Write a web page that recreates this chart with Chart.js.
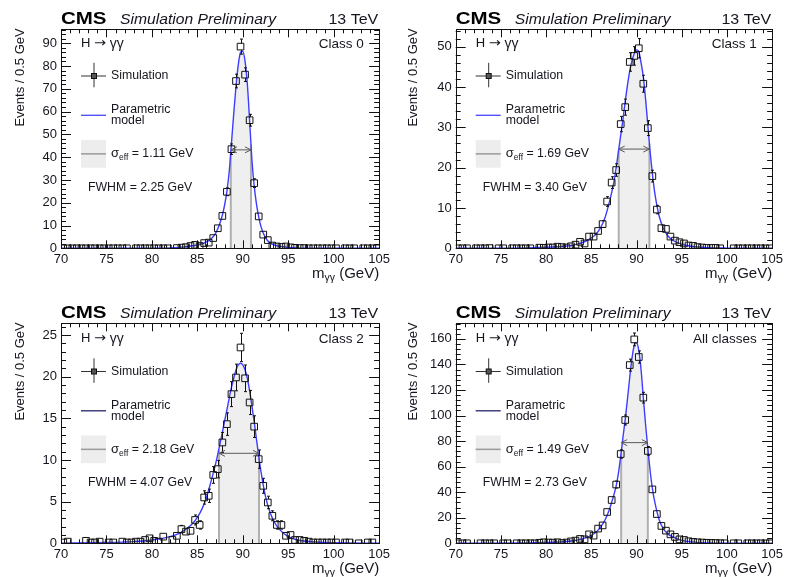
<!DOCTYPE html>
<html>
<head>
<meta charset="utf-8">
<script src="https://cdn.jsdelivr.net/npm/chart.js@4.4.0/dist/chart.umd.min.js"></script>
<style>
  html, body { margin: 0; padding: 0; background: #fff; }
  #wrap { position: relative; width: 786px; height: 577px; overflow: hidden; }
  canvas { position: absolute; }
</style>
</head>
<body>
<div id="wrap">
  <canvas id="c0" width="393" height="290" style="left:0;top:0"></canvas>
  <canvas id="c1" width="393" height="290" style="left:393px;top:0"></canvas>
  <canvas id="c2" width="393" height="287" style="left:0;top:290px"></canvas>
  <canvas id="c3" width="393" height="287" style="left:393px;top:290px"></canvas>
</div>
<script>
// Diphoton invariant mass, 0.5 GeV bins from 70 to 105 GeV (bin centres)
const massBins = [
  70.25, 70.75, 71.25, 71.75, 72.25, 72.75, 73.25, 73.75, 74.25, 74.75,
  75.25, 75.75, 76.25, 76.75, 77.25, 77.75, 78.25, 78.75, 79.25, 79.75,
  80.25, 80.75, 81.25, 81.75, 82.25, 82.75, 83.25, 83.75, 84.25, 84.75,
  85.25, 85.75, 86.25, 86.75, 87.25, 87.75, 88.25, 88.75, 89.25, 89.75,
  90.25, 90.75, 91.25, 91.75, 92.25, 92.75, 93.25, 93.75, 94.25, 94.75,
  95.25, 95.75, 96.25, 96.75, 97.25, 97.75, 98.25, 98.75, 99.25, 99.75,
  100.25, 100.75, 101.25, 101.75, 102.25, 102.75, 103.25, 103.75, 104.25, 104.75
];

// Simulated events per bin (null = empty bin, no marker)
const class0Events = [
  0, 0, 0, 0, 0, 0, 0, 0, 0, 0,
  0, 0, 0, 0, 0, null, 0, 0, 0, 0,
  0, 0, 0, 0, null, 0.1, 0.3, 0.5, 1.0, 1.5,
  1.0, 2.3, 2.5, 4.5, 8.8, 14.2, 24.8, 43.5, 73.4, 88.5,
  76.2, 56.2, 28.6, 14.0, 6.0, 3.6, 1.2, 0.8, 0.6, 0.8,
  0.4, 0.2, 0.1, 0.1, 0, 0, 0, 0, 0, 0,
  0, null, 0, 0, 0, null, 0, 0, 0, 0
];
const class0Errors = [
  0, 0, 0, 0, 0, 0, 0, 0, 0, 0,
  0, 0, 0, 0, 0, 0, 0, 0, 0, 0,
  0, 0, 0, 0, 0, 0.1, 0.2, 0.25, 0.35, 0.4,
  0.35, 0.5, 0.55, 0.75, 1.0, 1.3, 1.7, 2.3, 3.0, 3.3,
  3.0, 2.6, 1.9, 1.3, 0.85, 0.7, 0.4, 0.3, 0.3, 0.3,
  0.2, 0.15, 0.1, 0.1, 0, 0, 0, 0, 0, 0,
  0, 0, 0, 0, 0, 0, 0, 0, 0, 0
];

const class1Events = [
  0, 0, 0, null, 0, 0, 0, 0.05, null, 0,
  0, null, 0, 0, 0, 0, 0, null, 0.15, 0.1,
  0.2, 0.2, 0.4, 0.3, 0.2, 0.5, 0.9, 1.6, 1.2, 2.9,
  2.9, 4.3, 6.0, 11.6, 16.3, 19.4, 30.8, 35.0, 46.2, 47.7,
  49.6, 40.8, 29.8, 17.9, 9.6, 5.0, 4.8, 2.9, 1.9, 1.5,
  1.2, 0.7, 0.6, 0.3, 0.2, 0.1, 0.1, 0.1, 0, null,
  null, 0, 0, 0, 0, 0, 0, 0, 0, 0
];
const class1Errors = [
  0, 0, 0, 0, 0, 0, 0, 0.05, 0, 0,
  0, 0, 0, 0, 0, 0, 0, 0, 0.1, 0.1,
  0.15, 0.15, 0.2, 0.2, 0.15, 0.25, 0.3, 0.45, 0.4, 0.6,
  0.6, 0.7, 0.85, 1.2, 1.45, 1.55, 1.9, 2.0, 2.3, 2.3,
  2.4, 2.1, 1.85, 1.45, 1.05, 0.8, 0.75, 0.6, 0.5, 0.45,
  0.4, 0.3, 0.3, 0.2, 0.15, 0.1, 0.1, 0.1, 0, 0,
  0, 0, 0, 0, 0, 0, 0, 0, 0, 0
];

const class2Events = [
  0.1, 0.2, null, null, null, 0.3, 0.1, 0.1, 0.2, null,
  0.1, 0.1, null, 0.2, 0.1, 0.1, 0.2, 0.2, 0.4, 0.6,
  0.3, 0.2, 0.8, null, 0.4, 0.9, 1.7, 1.4, 1.5, 2.8,
  2.2, 5.5, 5.7, 8.2, 8.9, 12.1, 14.3, 17.9, 19.9, 23.5,
  19.8, 16.9, 14.0, 10.1, 6.9, 4.9, 3.3, 2.2, 2.2, 0.9,
  1.0, 0.4, 0.4, 0.3, 0.2, 0.1, 0.1, 0.1, 0.1, 0.1,
  0.1, null, 0.1, 0.1, null, 0, null, 0.1, 0.1, null
];
const class2Errors = [
  0.1, 0.15, 0, 0, 0, 0.2, 0.1, 0.1, 0.15, 0,
  0.1, 0.1, 0, 0.15, 0.1, 0.1, 0.15, 0.15, 0.2, 0.25,
  0.2, 0.15, 0.3, 0, 0.2, 0.3, 0.45, 0.4, 0.4, 0.6,
  0.5, 0.8, 0.8, 1.0, 1.05, 1.2, 1.35, 1.5, 1.6, 1.7,
  1.6, 1.45, 1.3, 1.1, 0.9, 0.75, 0.6, 0.5, 0.5, 0.3,
  0.35, 0.2, 0.2, 0.2, 0.15, 0.1, 0.1, 0.1, 0.1, 0.1,
  0.1, 0, 0.1, 0.1, 0, 0, 0, 0.1, 0.1, 0
];

const allEvents = [
  0, 0, 0, null, null, 0, 0, 0, 0, null,
  0, 0, null, 0, 0, 0, 0, 0, 0.4, 0.8,
  0.6, 0.5, 0.8, 0.2, 0.6, 1.5, 2.1, 3.4, 3.1, 7.0,
  6.0, 11.5, 14.0, 24.5, 33.9, 46.0, 69.9, 96.5, 139.5, 159.6,
  145.8, 114.0, 72.3, 42.2, 22.9, 13.6, 9.9, 7.0, 5.0, 3.1,
  2.6, 1.6, 1.1, 0.8, 0.6, 0.4, 0.3, 0.2, 0.1, 0,
  null, 0, 0, null, 0, 0, 0, 0, 0, 0
];
const allErrors = [
  0, 0, 0, 0, 0, 0, 0, 0, 0, 0,
  0, 0, 0, 0, 0, 0, 0, 0, 0.3, 0.4,
  0.35, 0.3, 0.4, 0.2, 0.35, 0.5, 0.6, 0.75, 0.7, 1.1,
  1.0, 1.4, 1.5, 2.0, 2.3, 2.7, 3.3, 3.9, 4.7, 5.0,
  4.8, 4.2, 3.4, 2.6, 1.9, 1.5, 1.3, 1.1, 0.9, 0.7,
  0.65, 0.5, 0.4, 0.35, 0.3, 0.25, 0.2, 0.15, 0.1, 0,
  0, 0, 0, 0, 0, 0, 0, 0, 0, 0
];

// Parametric signal model, sampled in mass
const modelMass = [
  70, 74, 78, 80, 82, 83, 84, 84.5, 85, 85.5,
  86, 86.5, 87, 87.25, 87.5, 87.75, 88, 88.25, 88.5, 88.75,
  89, 89.25, 89.5, 89.75, 90, 90.25, 90.5, 90.75, 91, 91.25,
  91.5, 91.75, 92, 92.5, 93, 93.5, 94, 95, 96, 98,
  100, 105
];
const class0Model = [
  0, 0, 0.02, 0.05, 0.2, 0.4, 0.8, 1.1, 1.5, 2.0,
  2.8, 4.1, 6.6, 8.6, 11.2, 14.5, 19, 25, 33.5, 46,
  59, 71, 80.5, 86, 86.5, 82, 72, 56, 39, 27.5,
  19.5, 13.8, 9.5, 4.6, 2.4, 1.4, 0.9, 0.4, 0.15, 0.05,
  0.02, 0
];
const class1Model = [
  0, 0.02, 0.1, 0.25, 0.5, 0.8, 1.4, 1.9, 2.6, 3.5,
  5.0, 7.5, 11.5, 13.8, 16.5, 20, 24, 28, 32, 36.5,
  40.5, 44, 46.5, 48.3, 49.2, 48.8, 46, 42.5, 37, 30.5,
  24, 18.5, 14, 8, 4.8, 3.0, 2.0, 1.0, 0.5, 0.15,
  0.05, 0
];
const class2Model = [
  0.02, 0.08, 0.2, 0.4, 0.8, 1.2, 1.9, 2.4, 3.1, 4.1,
  5.5, 7.4, 9.5, 10.7, 12.0, 13.3, 14.7, 16.0, 17.4, 18.7,
  19.8, 20.8, 21.4, 21.6, 21.4, 20.8, 19.8, 18.3, 16.5, 14.6,
  12.5, 10.5, 8.6, 5.6, 3.7, 2.5, 1.7, 0.8, 0.4, 0.15,
  0.06, 0.02
];
const allModel = [
  0, 0.05, 0.3, 0.6, 1.2, 2.0, 3.5, 4.7, 6.3, 8.7,
  12.5, 18, 26.5, 32, 38, 45, 55, 68, 83, 97,
  113, 130, 145, 155, 157, 151, 136, 114, 93, 74,
  57, 43, 33, 18.5, 11, 7.2, 5.0, 2.3, 1.1, 0.3,
  0.1, 0
];

// Effective-sigma window [low, high] in GeV, model height at each edge, arrow height
const class0Window = [88.68, 90.90];  const class0WindowY = [42.5, 45.5];  const class0Arrow = 43.2;
const class1Window = [88.03, 91.42];  const class1WindowY = [24.3, 26.0];  const class1Arrow = 24.6;
const class2Window = [87.38, 91.78];  const class2WindowY = [11.2, 10.3];  const class2Arrow = 10.8;
const allWindow    = [88.30, 91.25];  const allWindowY    = [70.5, 74.0];  const allArrow    = 78.8;

const panelLabels = ['Class 0', 'Class 1', 'Class 2', 'All classes'];
const sigmaEff = ['1.11', '1.69', '2.18', '1.49'];
const fwhm = ['2.25', '3.40', '4.07', '2.73'];

const FONT = '"Liberation Sans", Arial, Helvetica, sans-serif';
const SYMFONT = '"DejaVu Sans", "Liberation Sans", sans-serif';
const INK = '#15151f';

const panels = [
  { canvas: 'c0', vals: class0Events, errs: class0Errors, model: class0Model, win: class0Window, winY: class0WindowY, arrow: class0Arrow,
    yMax: 96.1, yStep: 10, yMinor: 2, L: 61, R: 381, T: 29.3, B: 248.3, H: 290, lineLegend: '#4747ff' },
  { canvas: 'c1', vals: class1Events, errs: class1Errors, model: class1Model, win: class1Window, winY: class1WindowY, arrow: class1Arrow,
    yMax: 54.3, yStep: 10, yMinor: 2, L: 62.7, R: 382.3, T: 29.3, B: 248.3, H: 290, lineLegend: '#4747ff' },
  { canvas: 'c2', vals: class2Events, errs: class2Errors, model: class2Model, win: class2Window, winY: class2WindowY, arrow: class2Arrow,
    yMax: 26.4, yStep: 5, yMinor: 1, L: 61, R: 381, T: 33.3, B: 253.3, H: 287, lineLegend: '#22226a' },
  { canvas: 'c3', vals: allEvents, errs: allErrors, model: allModel, win: allWindow, winY: allWindowY, arrow: allArrow,
    yMax: 172.2, yStep: 20, yMinor: 4, L: 62.7, R: 382.3, T: 33.3, B: 253.3, H: 287, lineLegend: '#22226a' }
];

function txt(ctx, s, x, y, size, o) {
  o = o || {};
  ctx.save();
  ctx.font = (o.style || '') + ' ' + (o.weight || '') + ' ' + size + 'px ' + (o.family || FONT);
  ctx.fillStyle = o.color || INK;
  ctx.textBaseline = o.baseline || 'alphabetic';
  ctx.textAlign = 'left';
  const sx = o.sx || 1;
  const w = ctx.measureText(s).width * sx;
  let x0 = x;
  if (o.align === 'right') x0 = x - w;
  else if (o.align === 'center') x0 = x - w / 2;
  if (!o.measureOnly) {
    ctx.translate(x0, y);
    ctx.scale(sx, 1);
    ctx.fillText(s, 0, 0);
  }
  ctx.restore();
  return w;
}

function decorPlugin(p, k) {
  return {
    id: 'decor' + k,
    afterDatasetsDraw(chart) {
      const ctx = chart.ctx, xs = chart.scales.x, ys = chart.scales.y, a = chart.chartArea;
      ctx.save();
      ctx.beginPath();
      ctx.rect(a.left, a.top, a.right - a.left, a.bottom - a.top);
      ctx.clip();
      // vertical error bars, interrupted by the marker
      ctx.strokeStyle = '#111';
      ctx.lineWidth = 1;
      const half = 3.4, cap = 1.5;
      ctx.beginPath();
      massBins.forEach((m, i) => {
        const v = p.vals[i], e = p.errs[i];
        if (v === null || !e) return;
        const px = Math.round(xs.getPixelForValue(m)) + 0.5;
        const py = ys.getPixelForValue(v);
        const top = ys.getPixelForValue(v + e);
        const bot = ys.getPixelForValue(Math.max(0, v - e));
        if (py - top > half) {
          ctx.moveTo(px, py - half); ctx.lineTo(px, top);
          ctx.moveTo(px - cap, top); ctx.lineTo(px + cap, top);
        }
        if (bot - py > half) {
          ctx.moveTo(px, py + half); ctx.lineTo(px, bot);
          ctx.moveTo(px - cap, bot); ctx.lineTo(px + cap, bot);
        }
      });
      ctx.stroke();
      // sigma_eff arrow
      const ay = ys.getPixelForValue(p.arrow);
      const x1 = xs.getPixelForValue(p.win[0]), x2 = xs.getPixelForValue(p.win[1]);
      ctx.strokeStyle = '#5a5a5a';
      ctx.beginPath();
      ctx.moveTo(x1, ay); ctx.lineTo(x2, ay);
      ctx.moveTo(x1 + 6, ay - 3); ctx.lineTo(x1, ay); ctx.lineTo(x1 + 6, ay + 3);
      ctx.moveTo(x2 - 6, ay - 3); ctx.lineTo(x2, ay); ctx.lineTo(x2 - 6, ay + 3);
      ctx.stroke();
      ctx.restore();
    },
    afterDraw(chart) {
      const ctx = chart.ctx, xs = chart.scales.x, ys = chart.scales.y, a = chart.chartArea;
      ctx.save();
      // frame
      ctx.strokeStyle = '#111';
      ctx.lineWidth = 1;
      ctx.strokeRect(Math.round(a.left) + 0.5, Math.round(a.top) + 0.5,
                     Math.round(a.right - a.left), Math.round(a.bottom - a.top));
      // inward ticks on all four sides
      ctx.beginPath();
      for (let m = 70; m <= 105.001; m += 1) {
        const px = Math.round(xs.getPixelForValue(m)) + 0.5;
        const len = (Math.abs(m % 5) < 1e-6) ? 8 : 4;
        ctx.moveTo(px, a.bottom); ctx.lineTo(px, a.bottom - len);
        ctx.moveTo(px, a.top); ctx.lineTo(px, a.top + len);
      }
      for (let v = 0; v <= p.yMax + 1e-6; v += p.yMinor) {
        const py = Math.round(ys.getPixelForValue(v)) + 0.5;
        const major = Math.abs(v / p.yStep - Math.round(v / p.yStep)) < 1e-6;
        const len = major ? 10 : 5;
        ctx.moveTo(a.left, py); ctx.lineTo(a.left + len, py);
        ctx.moveTo(a.right, py); ctx.lineTo(a.right - len, py);
      }
      ctx.stroke();

      const L = a.left, T = a.top, R = a.right, B = a.bottom;
      // header
      txt(ctx, 'CMS', L, T - 5.5, 16, { weight: 'bold', sx: 1.28, color: '#000' });
      txt(ctx, 'Simulation Preliminary', L + 59, T - 5.5, 14, { style: 'italic', sx: 1.12 });
      txt(ctx, '13 TeV', R - 1, T - 5.5, 14, { sx: 1.14, align: 'right' });

      // axis titles
      ctx.save();
      ctx.translate(20, T - 1);
      ctx.rotate(-Math.PI / 2);
      txt(ctx, 'Events / 0.5 GeV', 0, 0, 13, { align: 'right', baseline: 'middle' });
      ctx.restore();
      const wM = txt(ctx, 'm', 0, 0, 15, { measureOnly: true });
      const wG = txt(ctx, 'γγ', 0, 0, 10.5, { measureOnly: true });
      const wU = txt(ctx, ' (GeV)', 0, 0, 15, { measureOnly: true });
      let tx = R - (wM + wG + wU);
      const ty = B + 29.5;
      txt(ctx, 'm', tx, ty, 15); tx += wM;
      txt(ctx, 'γγ', tx, ty + 3.5, 10.5); tx += wG;
      txt(ctx, ' (GeV)', tx, ty, 15);

      // in-frame labels
      const dy = (k >= 2) ? 1.5 : 0;
      let hx = L + 20;
      hx += txt(ctx, 'H ', hx, T + 14 + dy, 13, { baseline: 'middle' });
      hx += txt(ctx, '→', hx, T + 14 + dy, 13, { baseline: 'middle', family: SYMFONT, sx: 1.1 });
      txt(ctx, ' γγ', hx, T + 14.5 + dy, 14, { baseline: 'middle' });
      txt(ctx, panelLabels[k], R - 15.5, T + 14.7 + dy, 13.5, { baseline: 'middle', align: 'right' });

      // legend: simulation marker
      const cx = L + 33, cy = T + 46.7 + dy;
      ctx.strokeStyle = '#333';
      ctx.lineWidth = 1;
      ctx.beginPath();
      ctx.moveTo(L + 20, cy); ctx.lineTo(L + 45, cy);
      ctx.moveTo(cx, T + 33.5 + dy); ctx.lineTo(cx, T + 58 + dy);
      ctx.stroke();
      ctx.fillStyle = '#555';
      ctx.fillRect(cx - 2.5, cy - 2.5, 5, 5);
      ctx.strokeStyle = '#111';
      ctx.strokeRect(cx - 2.5, cy - 2.5, 5, 5);
      txt(ctx, 'Simulation', L + 50, cy, 12.3, { baseline: 'middle' });

      // legend: model line
      const ly = T + 86 + dy;
      ctx.strokeStyle = p.lineLegend;
      ctx.lineWidth = 1.3;
      ctx.beginPath(); ctx.moveTo(L + 20, ly); ctx.lineTo(L + 45, ly); ctx.stroke();
      txt(ctx, 'Parametric', L + 50, T + 80.5 + dy, 12.3, { baseline: 'middle' });
      txt(ctx, 'model', L + 50, T + 91.5 + dy, 12.3, { baseline: 'middle' });

      // legend: sigma_eff box
      const by0 = T + 110.7 + dy, by1 = T + 138.4 + dy, bm = (by0 + by1) / 2;
      ctx.fillStyle = '#ededed';
      ctx.fillRect(L + 20, by0, 25, by1 - by0);
      ctx.strokeStyle = '#9a9a9a';
      ctx.lineWidth = 1.5;
      ctx.beginPath(); ctx.moveTo(L + 20, bm); ctx.lineTo(L + 45, bm); ctx.stroke();
      let sx0 = L + 50;
      sx0 += txt(ctx, 'σ', sx0, bm, 13, { baseline: 'middle' });
      sx0 += txt(ctx, 'eff', sx0, bm + 4, 8.5, { baseline: 'middle' });
      txt(ctx, ' = ' + sigmaEff[k] + ' GeV', sx0, bm, 12.3, { baseline: 'middle' });

      txt(ctx, 'FWHM = ' + fwhm[k] + ' GeV', L + 27, T + 158 + dy, 12.3, { baseline: 'middle' });
      ctx.restore();
    }
  };
}

panels.forEach((p, k) => {
  const pts = [];
  massBins.forEach((m, i) => { if (p.vals[i] !== null) pts.push({ x: m, y: p.vals[i] }); });
  const curve = modelMass.map((m, i) => ({ x: m, y: p.model[i] }));
  const band = [{ x: p.win[0], y: p.winY[0] }];
  modelMass.forEach((m, i) => { if (m > p.win[0] && m < p.win[1]) band.push({ x: m, y: p.model[i] }); });
  band.push({ x: p.win[1], y: p.winY[1] });

  const W = 393;
  new Chart(document.getElementById(p.canvas), {
    type: 'scatter',
    data: {
      datasets: [
        { label: 'Simulation', data: pts, pointStyle: 'rect', pointRadius: 4.7,
          pointBorderColor: '#111', pointBackgroundColor: 'rgba(255,255,255,0)', pointBorderWidth: 1 },
        { label: 'Parametric model', data: curve, showLine: true, pointRadius: 0,
          borderColor: '#3d3dff', borderWidth: 1.4, cubicInterpolationMode: 'monotone' },
        { label: 'lo', data: [{ x: p.win[0], y: 0 }, { x: p.win[0], y: p.winY[0] }], showLine: true,
          pointRadius: 0, borderColor: '#b0b0b0', borderWidth: 2 },
        { label: 'hi', data: [{ x: p.win[1], y: 0 }, { x: p.win[1], y: p.winY[1] }], showLine: true,
          pointRadius: 0, borderColor: '#b0b0b0', borderWidth: 2 },
        { label: 'window', data: band, showLine: true, pointRadius: 0, borderWidth: 0,
          borderColor: 'rgba(0,0,0,0)', backgroundColor: '#efefef', fill: 'origin',
          cubicInterpolationMode: 'monotone' }
      ]
    },
    options: {
      responsive: false,
      animation: false,
      devicePixelRatio: 1,
      events: [],
      layout: { padding: { top: p.T, right: W - p.R, left: 0, bottom: 0 } },
      plugins: { legend: { display: false }, tooltip: { enabled: false } },
      scales: {
        x: {
          type: 'linear', min: 70, max: 105,
          afterFit(s) { s.height = p.H - p.B; },
          grid: { display: false, drawTicks: false },
          border: { display: false },
          ticks: { stepSize: 5, includeBounds: false, padding: 3, maxRotation: 0, autoSkip: false,
                   color: INK, font: { family: FONT, size: 13 } }
        },
        y: {
          type: 'linear', min: 0, max: p.yMax,
          afterFit(s) { s.width = p.L; },
          grid: { display: false, drawTicks: false },
          border: { display: false },
          ticks: { stepSize: p.yStep, includeBounds: false, padding: 4,
                   color: INK, font: { family: FONT, size: 13 } }
        }
      }
    },
    plugins: [decorPlugin(p, k)]
  });
});
</script>
</body>
</html>
